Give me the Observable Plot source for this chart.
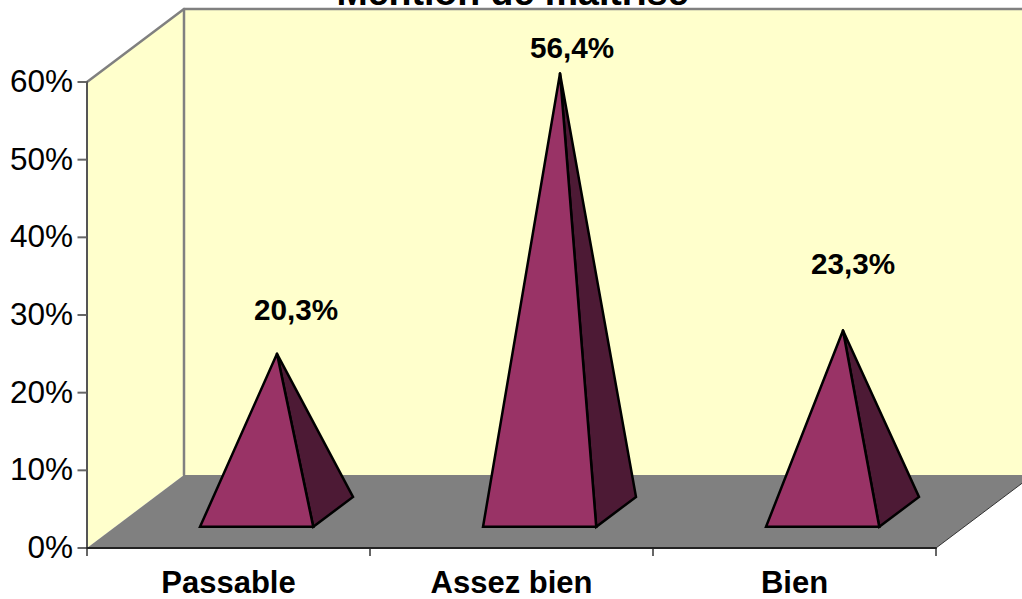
<!DOCTYPE html>
<html>
<head>
<meta charset="utf-8">
<script src="https://cdn.jsdelivr.net/npm/d3@7"></script>
<script src="https://cdn.jsdelivr.net/npm/@observablehq/plot@0.6"></script>
<style>
html,body{margin:0;padding:0;background:#fff;}
svg{display:block;}
</style>
</head>
<body>
<div id="chart"></div>
<script>
const titleText = "Mention de maîtrise";
const categories = ["Passable", "Assez bien", "Bien"];
const values = [20.3, 56.4, 23.3];
const valueLabels = ["20,3%", "56,4%", "23,3%"];
const yTicks = [0, 10, 20, 30, 40, 50, 60];
const xTicks = [0, 1, 2, 3];

const FONT = "Liberation Sans, Arial, sans-serif";
// oblique projection of depth (0 front .. 1 back) into chart units
const depthX = 97 / 283, depthY = 73 / 7.767;
const P = (c, v, d = 0) => ({x: c + d * depthX, y: v + d * depthY});
const poly = pts => [...pts, pts[0]];

const leftWall = poly([P(0,0), P(0,60), P(0,60,1), P(0,0,1)]);
const backWall = poly([P(0,0,1), P(0,60,1), P(3,60,1), P(3,0,1)]);
const floor = poly([P(0,0), P(3,0), P(3,0,1), P(0,0,1)]);

const line = (pts, o) => Plot.line(pts, {x: "x", y: "y", ...o});
const sharp = {stroke: "#000", strokeWidth: 2.5, strokeLinejoin: "miter", strokeMiterlimit: 3};

const pyramids = values.flatMap((v, i) => {
  const c = i + 0.3, w = 0.4, d0 = 0.29, d1 = 0.7;
  const apex = P(i + 0.5, v, 0.5);
  const fl = P(c, 0, d0), fr = P(c + w, 0, d0), br = P(c + w, 0, d1);
  return [
    line(poly([apex, fr, br]), {fill: "#4d1a35", ...sharp}),
    line(poly([apex, fl, fr]), {fill: "#993366", ...sharp})
  ];
});

const labelOffsets = [[19, -43], [12, -25], [10, -66]];
const valueMarks = values.map((v, i) => {
  const a = P(i + 0.5, v, 0.5);
  return Plot.text([valueLabels[i]], {
    x: () => a.x, y: () => a.y, text: d => d,
    dx: labelOffsets[i][0], dy: labelOffsets[i][1],
    fontSize: 29.7, fontWeight: "bold", fontFamily: FONT, fill: "#000", textAnchor: "middle"
  });
});

const chart = Plot.plot({
  width: 1022,
  height: 599,
  margin: 0,
  style: {background: "#fff", overflow: "hidden"},
  x: {type: "linear", domain: [0, 3], range: [86.5, 935.5], axis: null},
  y: {type: "linear", domain: [0, 60], range: [547.5, 81.5], axis: null},
  marks: [
    line(leftWall, {fill: "#ffffcc", stroke: "none"}),
    line(backWall, {fill: "#ffffcc", stroke: "none"}),
    line(floor, {fill: "#808080", stroke: "none"}),
    line([P(0,60), P(0,60,1), P(3,60,1)], {stroke: "#808080", strokeWidth: 2.5}),
    line([P(0,0,1), P(0,60,1)], {stroke: "#808080", strokeWidth: 2.5}),
    line([P(3,0), P(3,0,1)], {stroke: "#333", strokeWidth: 1}),
    line([P(0,0), P(0,60)], {stroke: "#555", strokeWidth: 2}),
    Plot.ruleY(yTicks, {y: d => d, x1: () => -9 / 283, x2: () => 0, stroke: "#666", strokeWidth: 2}),
    Plot.text(yTicks, {
      x: () => 0, y: d => d, text: d => d + "%", dx: -14, textAnchor: "end",
      fontSize: 31.5, fontFamily: FONT, fill: "#000"
    }),
    Plot.ruleX(xTicks, {x: d => d, y1: () => 0, y2: () => -1.1, stroke: "#666", strokeWidth: 2}),
    ...pyramids,
    line([P(0,0), P(3,0)], {stroke: "#222", strokeWidth: 2}),
    ...valueMarks,
    Plot.text(categories, {
      x: (d, i) => i + 0.5, y: () => 0, text: d => d, dy: 35, 
      fontSize: 31, fontWeight: "bold", fontFamily: FONT, fill: "#000", textAnchor: "middle"
    }),
    Plot.text([titleText], {
      x: () => 1.5, y: () => 70, text: d => d, dx: 1, dy: 1, lineAnchor: "bottom",
      fontSize: 37.5, fontWeight: "bold", fontFamily: FONT, fill: "#000", textAnchor: "middle"
    })
  ]
});
document.getElementById("chart").appendChild(chart);
</script>
</body>
</html>
